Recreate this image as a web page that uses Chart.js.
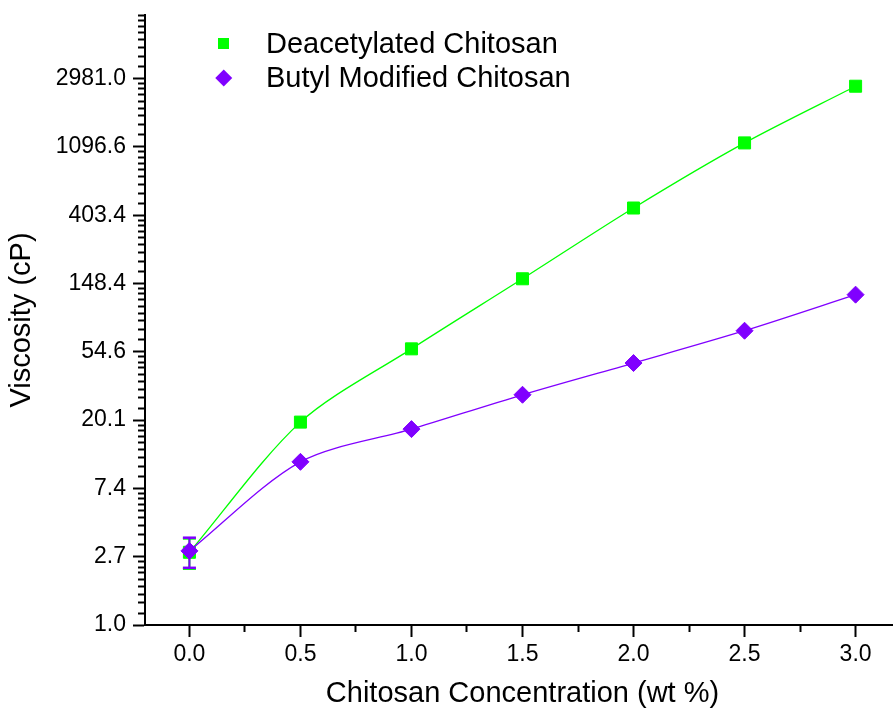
<!DOCTYPE html>
<html>
<head>
<meta charset="utf-8">
<script src="https://cdn.jsdelivr.net/npm/chart.js@4.4.0/dist/chart.umd.min.js"></script>
<style>
html, body { margin:0; padding:0; background:#fff; overflow:hidden; }
#wrap { position:relative; width:900px; height:715px; }
#chart { display:block; width:900px; height:715px; }
#legend { position:absolute; left:0; top:0; font-family:"Liberation Sans", Arial, sans-serif; font-size:29px; color:#000; }
.item { position:absolute; left:266px; line-height:29px; white-space:nowrap; }
.mark { position:absolute; }
</style>
</head>
<body>
<div id="wrap">
  <canvas id="chart" width="900" height="715"></canvas>
  <div id="legend"></div>
</div>
<script>
var concentrations = [0, 0.5, 1.0, 1.5, 2.0, 2.5, 3.0];
var deacetylated = [2.9, 19.5, 57.0, 159, 448, 1162, 2665];
var butyl = [2.96, 10.9, 17.6, 29.1, 46.3, 74.3, 126];
// error bars, only visible at 0 wt %
var deacetylatedErrAtZero = [2.28, 3.55];
var butylErrAtZero = [2.31, 3.59];

var seriesNames = ['Deacetylated Chitosan', 'Butyl Modified Chitosan'];
var seriesColors = ['#00ff00', '#8000ff'];

var xTicks = [0, 0.5, 1.0, 1.5, 2.0, 2.5, 3.0];
var xMinorTicks = [0.25, 0.75, 1.25, 1.75, 2.25, 2.75];
var yTickExps = [0, 1, 2, 3, 4, 5, 6, 7, 8];
var yTickLabels = ['1.0', '2.7', '7.4', '20.1', '54.6', '148.4', '403.4', '1096.6', '2981.0'];

var FONT = '"Liberation Sans", Arial, sans-serif';
var Y_MIN = 1, Y_MAX = 7560;

function points(xs, ys){
    return xs.map(function(x, i){ return {x:x, y:ys[i]}; });
}

// minor ticks: 8 linear steps inside every e-fold
function yMinorTicks(){
    var out = [];
    for(var n=0;n<9;n++){
        var a = Math.exp(n), b = Math.exp(n+1);
        for(var k=1;k<9;k++){
            var v = a + k*(b-a)/9;
            if(v <= Y_MAX) out.push({value:v});
        }
    }
    return out;
}

function errorSet(lohi, color, order){
    return {
        data: [{x:0, y:lohi[0]}, {x:0, y:lohi[1]}],
        showLine: true,
        borderColor: color,
        borderWidth: 2,
        pointStyle: 'line',
        pointRadius: 6.5,
        pointBorderWidth: 2.5,
        pointBorderColor: color,
        order: order
    };
}

// keep the plot box where the picture has it
function noPad(s){
    s.paddingTop = 0; s.paddingBottom = 0;
    s.paddingLeft = 0; s.paddingRight = 0;
}

var tickFont = {family:FONT, size:23};
var titleFont = {family:FONT, size:29};

new Chart(document.getElementById('chart'), {
    type: 'scatter',
    data: {
        datasets: [
            {
                label: seriesNames[1],
                data: points(concentrations, butyl),
                showLine: true,
                borderColor: seriesColors[1],
                backgroundColor: seriesColors[1],
                borderWidth: 1.3,
                pointStyle: 'rectRot',
                pointRadius: 8.5,
                pointBorderWidth: 1,
                tension: 0.3,
                order: 0
            },
            errorSet(butylErrAtZero, seriesColors[1], 1),
            {
                label: seriesNames[0],
                data: points(concentrations, deacetylated),
                showLine: true,
                borderColor: seriesColors[0],
                backgroundColor: seriesColors[0],
                borderWidth: 1.3,
                pointStyle: 'rect',
                pointRadius: 8.5,
                pointBorderWidth: 1,
                tension: 0.3,
                order: 2
            },
            errorSet(deacetylatedErrAtZero, seriesColors[0], 3)
        ]
    },
    options: {
        responsive: false,
        animation: false,
        devicePixelRatio: 1,
        layout: {autoPadding:false, padding:{top:15, right:0, bottom:0, left:0}},
        plugins: {legend:{display:false}, tooltip:{enabled:false}},
        scales: {
            x: {
                type: 'linear', position: 'bottom', weight: 1,
                min: -0.2, max: 3.2,
                afterBuildTicks: function(s){ s.ticks = xTicks.map(function(v){ return {value:v}; }); },
                afterFit: function(s){ s.height = 90; noPad(s); },
                grid: {drawOnChartArea:false, tickLength:12, tickWidth:2, tickColor:'#000'},
                border: {display:true, color:'#000', width:2},
                ticks: {color:'#000', font:tickFont, padding:4, maxRotation:0, autoSkip:false,
                    callback: function(v){ return Number(v).toFixed(1); }},
                title: {display:true, text:'Chitosan Concentration (wt %)', color:'#000', font:titleFont, padding:{top:0, bottom:4}}
            },
            xMinor: {
                type: 'linear', position: 'bottom', weight: 0,
                min: -0.2, max: 3.2,
                afterBuildTicks: function(s){ s.ticks = xMinorTicks.map(function(v){ return {value:v}; }); },
                afterFit: function(s){ s.height = 0; noPad(s); },
                grid: {drawOnChartArea:false, tickLength:7, tickWidth:2, tickColor:'#000'},
                border: {display:false},
                ticks: {display:false}
            },
            y: {
                type: 'logarithmic', position: 'left', weight: 1,
                min: Y_MIN, max: Y_MAX,
                afterBuildTicks: function(s){ s.ticks = yTickExps.map(function(n){ return {value:Math.exp(n)}; }); },
                afterFit: function(s){ s.width = 145; noPad(s); },
                grid: {drawOnChartArea:false, tickLength:12, tickWidth:2, tickColor:'#000'},
                border: {display:true, color:'#000', width:2},
                ticks: {color:'#000', font:tickFont, padding:7, autoSkip:false,
                    callback: function(v, i){ return yTickLabels[i]; }},
                title: {display:true, text:'Viscosity (cP)', color:'#000', font:titleFont, padding:{top:5, bottom:0}}
            },
            yMinor: {
                type: 'logarithmic', position: 'left', weight: 0,
                min: Y_MIN, max: Y_MAX,
                afterBuildTicks: function(s){ s.ticks = yMinorTicks(); },
                afterFit: function(s){ s.width = 0; noPad(s); },
                grid: {drawOnChartArea:false, tickLength:7, tickWidth:2, tickColor:'#000'},
                border: {display:false},
                ticks: {display:false}
            }
        }
    }
});

// legend, top left inside the plot
var legend = document.getElementById('legend');
var rows = [
    {name:seriesNames[0], color:seriesColors[0], top:29, mark:'square'},
    {name:seriesNames[1], color:seriesColors[1], top:63, mark:'diamond'}
];
rows.forEach(function(r){
    var t = document.createElement('div');
    t.className = 'item';
    t.style.top = r.top + 'px';
    t.textContent = r.name;
    legend.appendChild(t);
    var m = document.createElement('div');
    m.className = 'mark';
    m.style.background = r.color;
    if(r.mark === 'square'){
        m.style.width = '11px'; m.style.height = '11px';
        m.style.left = '217.5px'; m.style.top = (r.top + 14 - 5.5) + 'px';
    } else {
        m.style.width = '11.5px'; m.style.height = '11.5px';
        m.style.left = '217.5px'; m.style.top = (r.top + 15 - 5.75) + 'px';
        m.style.transform = 'rotate(45deg)';
    }
    legend.appendChild(m);
});
</script>
</body>
</html>
